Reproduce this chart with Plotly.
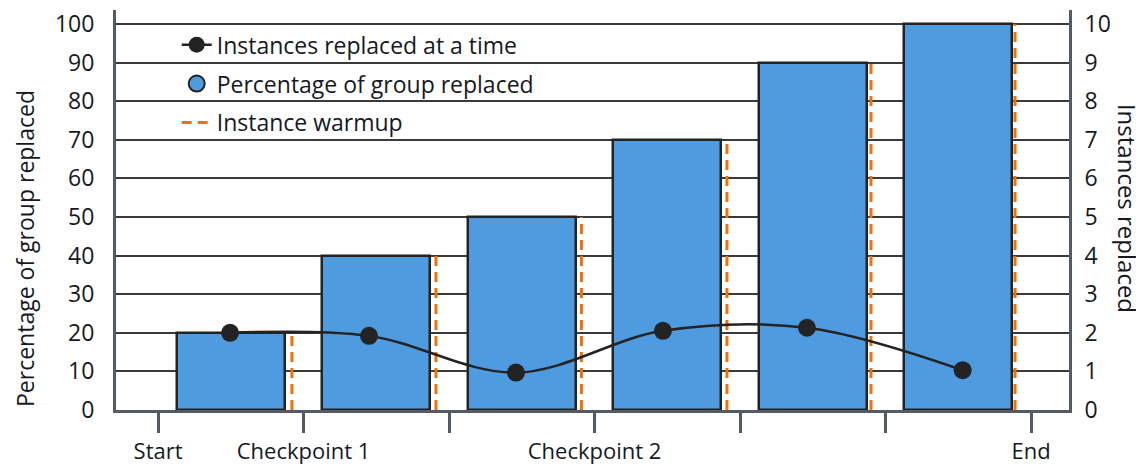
import plotly.graph_objects as go

# ---- data ----
tick_labels = ["Start", "Checkpoint 1", "", "Checkpoint 2", "", "", "End"]
tick_pos = [0, 1, 2, 3, 4, 5, 6]
bar_x = [0.5, 1.5, 2.5, 3.5, 4.5, 5.5]
pct_replaced = [20, 40, 50, 70, 90, 100]
warmup_x = [0.92, 1.91, 2.91, 3.91, 4.90, 5.89]
inst_x = [0.495, 1.45, 2.46, 3.47, 4.46, 5.53]
inst_replaced = [2.0, 1.92, 0.97, 2.05, 2.13, 1.03]

BLUE = "#4e9be0"
ORANGE = "#ec7211"
AXIS = "#545b64"
INK = "#232323"
FONT = "Open Sans"
FS = 23

fig = go.Figure()

fig.add_trace(go.Bar(
    x=bar_x, y=pct_replaced, width=0.74,
    marker=dict(color=BLUE, line=dict(color=INK, width=2.5)),
    showlegend=False, yaxis="y",
))

# warmup dashed lines
wx, wy = [], []
for x, h in zip(warmup_x, pct_replaced):
    wx += [x, x, None]
    wy += [0, h, None]
fig.add_trace(go.Scatter(
    x=wx, y=wy, mode="lines",
    line=dict(color=ORANGE, width=3, dash="10px,6px"),
    showlegend=False, yaxis="y", hoverinfo="skip",
))

fig.add_trace(go.Scatter(
    x=inst_x, y=inst_replaced, mode="lines+markers",
    line=dict(color=INK, width=2.5, shape="spline", smoothing=1),
    marker=dict(color=INK, size=18),
    name="Instances replaced at a time", legendgroup="a", legendrank=1,
    yaxis="y2",
))

# legend-only entries
fig.add_trace(go.Scatter(
    x=[None], y=[None], mode="markers",
    marker=dict(color=BLUE, size=30, line=dict(color=INK, width=2)),
    name="Percentage of group replaced", legendgroup="b", legendrank=2,
))
fig.add_trace(go.Scatter(
    x=[None], y=[None], mode="lines",
    line=dict(color=ORANGE, width=3, dash="10px,6px"),
    name="Instance warmup", legendgroup="c", legendrank=3,
))

fig.update_layout(
    width=1144, height=468,
    margin=dict(l=108, r=83, t=2, b=66),
    paper_bgcolor="white", plot_bgcolor="white",
    font=dict(family=FONT, size=FS, color="#16191f"),
    bargap=0,
    xaxis=dict(
        range=[-0.289, 6.261], tickvals=tick_pos, ticktext=tick_labels,
        showgrid=False, zeroline=False,
        showline=True, linecolor=AXIS, linewidth=3,
        ticks="outside", ticklen=20, tickwidth=3, tickcolor=AXIS,
        automargin=False, ticklabeloverflow="allow",
        tickfont=dict(size=22),
    ),
    yaxis=dict(
        range=[0, 103.6], tickvals=list(range(0, 101, 10)),
        showgrid=True, gridcolor="#3a3a3a", gridwidth=1.5,
        zeroline=False, showline=True, linecolor=AXIS, linewidth=3,
        ticks="", ticklabelstandoff=14, automargin=False,
        ticklabeloverflow="allow",
    ),
    yaxis2=dict(
        range=[0, 10.36], tickvals=list(range(0, 11)),
        overlaying="y", side="right", showgrid=False, zeroline=False,
        showline=True, linecolor=AXIS, linewidth=3,
        ticks="", ticklabelstandoff=8, automargin=False,
        ticklabeloverflow="allow",
    ),
    legend=dict(
        x=0.0637, y=0.967, xanchor="left", yanchor="top",
        bgcolor="rgba(0,0,0,0)", tracegroupgap=6,
        font=dict(size=FS), itemsizing="trace",
    ),
    annotations=[
        dict(text="Percentage of group replaced", xref="paper", yref="paper",
             x=-0.0955, y=0.405, xanchor="center", yanchor="middle",
             textangle=-90, showarrow=False, font=dict(size=23)),
        dict(text="Instances replaced", xref="paper", yref="paper",
             x=1.062, y=0.505, xanchor="center", yanchor="middle",
             textangle=90, showarrow=False, font=dict(size=24)),
    ],
)

fig.write_html("out.html")
